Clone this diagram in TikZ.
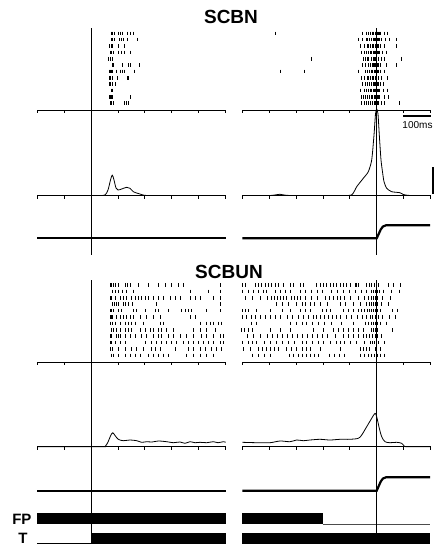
\documentclass[tikz,border=0pt]{standalone}
\usepackage{fontspec}
\setmainfont{Liberation Sans}

\tikzset{
  spike/.style={line width=0.9pt},
  axisline/.style={line width=0.9pt},
  rate/.style={line width=0.8pt, line join=round},
  eyetrace/.style={line width=2.2pt},
  onset/.style={line width=0.8pt},
  title/.style={font=\fontsize{19}{19}\selectfont\bfseries},
  evlabel/.style={font=\fontsize{15}{15}\selectfont\bfseries, anchor=east},
}
\newcommand{\tickaxis}[2]{%
  \draw[axisline] (#1,#2) -- ++(188.2,0);
  \foreach \i in {0,...,7} \draw[axisline] (#1+\i*26.89,#2) -- ++(0,3.2);}

\begin{document}
\begin{tikzpicture}[x=1pt,y=-1pt]
	\useasboundingbox (0,0) rectangle (438,546);

	\node[title] (scbn) at (231,16.8) {SCBN};
	\node[title] (scbun) at (229,271.7) {SCBUN};

	% time axes
	\tickaxis{37.3}{110}
	\tickaxis{242.3}{110}
	\tickaxis{37.3}{195.5}
	\tickaxis{242.3}{195.5}
	\tickaxis{37.3}{362}
	\tickaxis{242.3}{362}
	\tickaxis{37.3}{446.7}
	\tickaxis{242.3}{446.7}

	% SCBN rasters
	\foreach \r/\xs in {
		0/{111,112.5,114.5,118.5,120.5,122.5,127,130,133},
		1/{111,112.5,114,119,121,123,127,137},
		2/{109.5,111,112.5,118,124.5},
		3/{110,111.5,113,118,121,124,130},
		4/{108.5,110,112},
		5/{112,113.5,122,128,130,139},
		6/{109,110,111,112.5,116,120.5,122.5,124.5,134},
		7/{109,110.5,112,117,127,128.5},
		8/{109,110.5,112,115.5},
		9/{111,112},
		10/{109,110,111,112.5,130},
		11/{110,111.5,113,124,126,128}}
		\foreach \x in \xs \draw[spike] (\x,31.5+6.36*\r) -- ++(0,3.6);
	\foreach \r/\xs in {
		0/{275.5,362,366,368,370,372,373.5,375,376,377,378,379,380,384,387},
		1/{358.5,362,366,367.5,369,371,373,374,375,376,377,378,379,381,385,389,396.5},
		2/{360,364,367,368.5,370,372,373.5,375,376,377,378,380,384,396},
		3/{361,364,366,368,370,371.5,373,374,375,376,377,378,379,382,386},
		4/{311.5,363,365,367,368.5,371,373,374,375,376.5,378,381,384,401},
		5/{362,365,368,370,372,373,374,375,376,377,378,380,386,396},
		6/{280.5,304,358.5,365,367,369,371,372.5,374,375,376,377,378,380,384},
		7/{361,364.5,367,368.5,370,372,373.5,375,376.5,378,381,387},
		8/{362,365,367,369,371,373,374,375,376,377,378,380,383},
		9/{360,364,366,368,370,371.5,373,374,375,376,377,378,379,383,387},
		10/{361,363,365,367,369,371,372.5,374,375,376,377,378,379,384,388},
		11/{361,364,366,368,370,372,374,375,376,377,378,381,384,399}}
		\foreach \x in \xs \draw[spike] (\x,31.5+6.36*\r) -- ++(0,3.6);

	% SCBUN rasters
	\foreach \r/\xs in {
		0/{110,111.7,113.3,115,118.3,125,127.5,130,138.3,148.3,158.3,165,171.7,178.3,183.3,220},
		1/{112.7,115,118.3,122.7,126,133.3,190,208.3,220},
		2/{110,111.7,115,120,123.3,126.7,131.7,135,138.3,141.7,145,148.3,153.3,158.3,163.3,170,175,180,190,195,200,213.3,220},
		3/{112,114,116,118,123.3,125,128.3,132.7,156.7,220},
		4/{110,111.7,113.3,118.3,121.7,133.3,136.7,145,155,158.3,168.3,181.7,185,188.3,191.7,206.7,220},
		5/{110,111,112.3,116.7,120,123.3,126.7,130,133.3,140,146.7,153.3,160,190,195},
		6/{110,112.7,115,120,125,128.3,131.7,135,143.3,160,163.3,200,206.7,210,213.3,218.3,221.7},
		7/{111.7,113.3,116.7,120,125,128.3,131.7,140,145,150,153.3,158.3,161.7,166.7,173.3,193.3,200,206.7,215},
		8/{110,111.7,116.7,118.3,120,125,130,135,141.7,146.7,153.3,158.3,161.7,168.3,173.3,180,186.7,193.3,201.7,206.7,213.3,220,223.3},
		9/{110,111.7,115,120,125,145,151.7,156.7,161.7,166.7,171.7,176.7,183.3,188.3,193.3,198.3,203.3,208.3,213.3,220,223.3},
		10/{110,112.7,118.3,125,131.7,136.7,143.3,151.7,155,160,175,188.3,193.3,200,205,211.7,216.7,221.7},
		11/{111.7,113.3,118.3,125,130,135,140,148.3,153.3,158.3,163.3,168.3,186.7,193.3,200,206.7,213.3}}
		\foreach \x in \xs \draw[spike] (\x,283.2+6.4*\r) -- ++(0,3.6);
	\foreach \r/\xs in {
		0/{242.7,245,255,258.3,261.7,265,268.3,271.7,275,278.3,283.3,290,293.3,300,303.3,316.7,320,323.3,326.7,330,333.3,336.7,340,343.3,346.7,350,355,356.7,358.3,366.7,369.3,371.7,374,376.7,378.3,388.3,393.3,400},
		1/{242,248,253,258,263,266,275,280,285,290,300,305,311,317,322,331,337,343,349,355,361,366,371,373,375,377,379,383,391,399},
		2/{245,252,260,267,271,274,277,280,283,286,291,294,297,300,305,311,317,325,329,333,337,340,344,350,358,364,368,371,373,375,377,382,390},
		3/{276,282,288,296,302,305,310,314,320,327,340,345,353,360,366,369,371,373,375,377,381,388},
		4/{242,245,248,256,270,282,290,300,305,310,322,326,330,343,348,353,358,361,364,367,369,371,373,375,377,380,392,397},
		5/{242,246,251,255,260,265,270,275,280,287,292,298,303,308,313,316,320,324,328,332,336,340,346,351,357,362,366,370,372,375,378,382,389,395},
		6/{251,256,290,296,302,306,312,318,324,331,341,353,365,368,371,373,375,377,380,386},
		7/{241,244,248,252,270,280,290,313,323,333,338,343,348,353,358,363,371,373,375,377,392},
		8/{247,253,260,267,272,277,282,287,292,297,302,307,312,317,322,327,335,343,348,353,358,363,366,369,372,375,377,381},
		9/{242,248,252,256,264,270,276,282,288,294,302,306,312,318,323,330,336,340,344,350,356,364,370,372,374,376,378,384},
		10/{243,250,258,262,266,270,274,278,286,291,296,302,306,310,320,340,360,363,366,369,375,380},
		11/{252,258,264,270,289,293,298,302,306,310,314,318,329,334,339,344,360,364,368,371,374,377,380,384}}
		\foreach \x in \xs \draw[spike] (\x,283.2+6.4*\r) -- ++(0,3.6);

	% spike density
	\draw[rate] plot[smooth, tension=0.5] coordinates {(100,195.5) (105,195) (108,190) (110.5,180) (112.3,175) (114,180) (116,188) (118,190) (121.7,189) (126.7,187.3) (130,188.3) (133.3,191.7) (138.3,193.5) (144.3,195.3) (150,195.5)};
	\draw[rate] plot[smooth, tension=0.4] coordinates {(242.3,195.5) (270,195.5) (280,194.3) (290,195.5) (340,195.5) (351.7,194.8) (356.7,186.7) (363.3,178.3) (368.3,171.7) (371.7,160) (374,135) (375.5,114) (376.7,109) (378,114) (379.3,135) (381,160) (382.7,173.3) (384,181.7) (386.7,188.3) (391.7,191.7) (400,192.7) (403.3,194.5) (410,195.5) (430,195.5)};
	\draw[rate] plot[smooth, tension=0.5] coordinates {(37.3,446.7) (100,446.7) (105,446.5) (108,442) (110.5,436) (112.7,432.7) (115,435.5) (118.3,439.3) (123.3,440.7) (130,440) (136.7,440.7) (141.7,442.3) (146.7,441.7) (152,442) (158.3,441) (166.7,441.7) (173.3,442.7) (180,442) (185,443.3) (190,441.7) (195,442.7) (200,442.3) (206.7,442.7) (213.3,441.7) (218,442.7) (223.3,441.7) (225.6,442.3)};
	\draw[rate] plot[smooth, tension=0.5] coordinates {(242.3,442.3) (256.7,442.7) (270,442.7) (280,441) (290,441.7) (296.7,440) (303.3,440.7) (310,440) (320,439.3) (330,440) (340,439.3) (350,439.3) (358.3,438.3) (361.7,435) (366.7,426.7) (371.7,418.3) (375,413.3) (376.7,416.7) (379.3,428.3) (381.7,436.7) (385,441.7) (390,442.7) (396.7,442.3) (401.7,443.3) (404,445.7) (406.7,446.7) (430,446.7)};

	% eye position
	\draw[eyetrace] (37.3,238.2) -- (225.6,238.2);
	\draw[eyetrace] (242.3,238.3) -- (376.7,238.3) .. controls (380,232) and (381,225.5) .. (386,225.3) -- (430,225.3);
	\draw[eyetrace] (37.3,490.7) -- (225.6,490.7);
	\draw[eyetrace] (242.3,490.7) -- (376.7,490.7) .. controls (380,484) and (381,477.5) .. (386,477.3) -- (430,477.3);

	% scale bars
	\draw[line width=2pt] (403.3,116.3) -- (431,116.3);
	\node[font=\fontsize{10}{10}\selectfont] (ms) at (417.5,125.5) {100ms};
	\draw[line width=2.2pt] (432.7,167) -- (432.7,193.5);

	% events
	\node[evlabel] (fp) at (35,519) {FP};
	\node[evlabel] (t) at (31,538.5) {T};
	\fill (37.3,513.3) rectangle (225.6,524.3);
	\fill (242.3,513.3) rectangle (322.7,524.3);
	\draw[black!70, line width=0.8pt] (322.7,524) -- (430,524);
	\draw[line width=0.8pt] (37.3,543.5) -- (91,543.5);
	\fill (91,532.7) rectangle (225.6,544);
	\fill (242.3,532.7) rectangle (430,544);

	% target onset and saccade onset
	\draw[onset] (91,28) -- (91,255);
	\draw[onset] (91,280) -- (91,543);
	\draw[onset] (376.7,28) -- (376.7,255);
	\draw[onset] (376.7,280) -- (376.7,533);
\end{tikzpicture}
\end{document}
